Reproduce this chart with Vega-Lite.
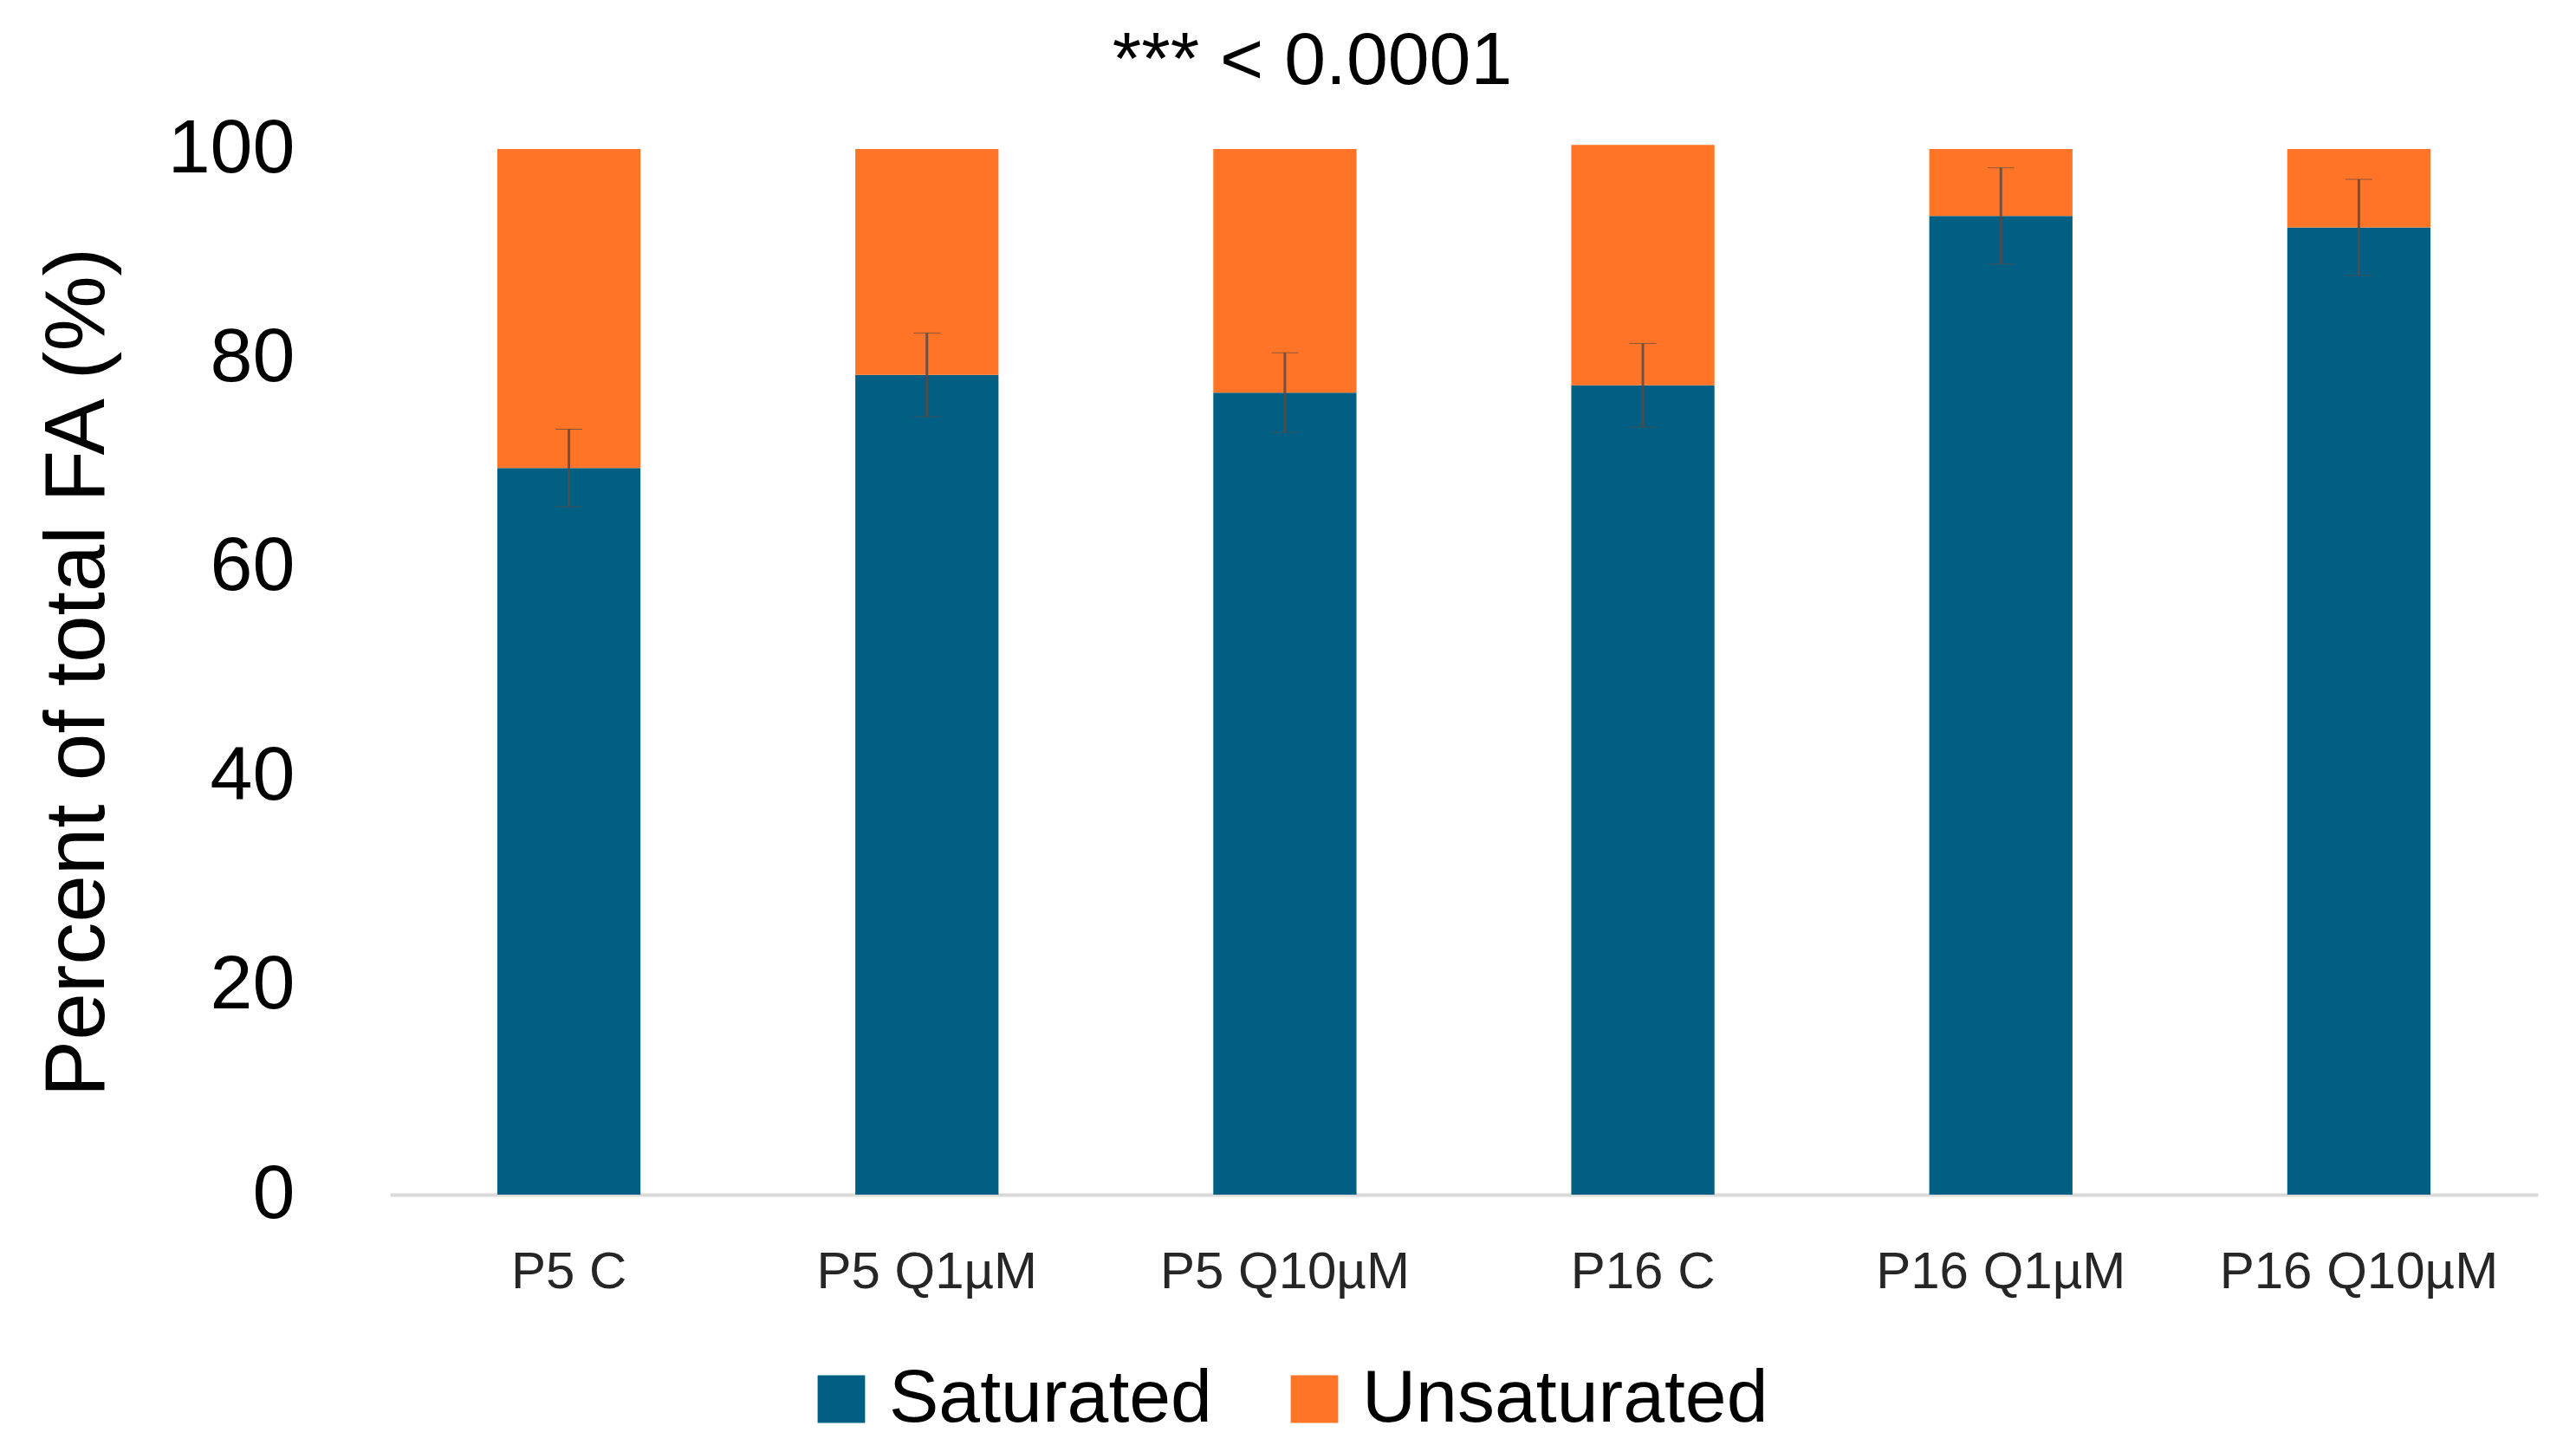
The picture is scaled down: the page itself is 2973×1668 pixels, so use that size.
{
  "$schema": "https://vega.github.io/schema/vega-lite/v6.json",
  "autosize": {"type": "none"},
  "padding": {"left": 450, "top": 172, "right": 44, "bottom": 289},
  "width": 2479,
  "height": 1207,
  "background": "white",
  "config": {"view": {"stroke": null}},
  "title": {
    "text": "***  < 0.0001",
    "font": "Liberation Sans",
    "fontSize": 86,
    "fontWeight": "normal",
    "color": "#000000",
    "anchor": "middle",
    "frame": "group",
    "dx": -175,
    "baseline": "alphabetic",
    "offset": -55
  },
  "datasets": {
    "bars": [
      {"group": "P5 C", "type": "Saturated", "value": 69.5},
      {"group": "P5 C", "type": "Unsaturated", "value": 30.5},
      {"group": "P5 Q1µM", "type": "Saturated", "value": 78.4},
      {"group": "P5 Q1µM", "type": "Unsaturated", "value": 21.6},
      {"group": "P5 Q10µM", "type": "Saturated", "value": 76.7},
      {"group": "P5 Q10µM", "type": "Unsaturated", "value": 23.3},
      {"group": "P16 C", "type": "Saturated", "value": 77.4},
      {"group": "P16 C", "type": "Unsaturated", "value": 23.0},
      {"group": "P16 Q1µM", "type": "Saturated", "value": 93.6},
      {"group": "P16 Q1µM", "type": "Unsaturated", "value": 6.4},
      {"group": "P16 Q10µM", "type": "Saturated", "value": 92.5},
      {"group": "P16 Q10µM", "type": "Unsaturated", "value": 7.5}
    ],
    "errs": [
      {"group": "P5 C", "value": 69.5, "err": 3.7},
      {"group": "P5 Q1µM", "value": 78.4, "err": 4.0},
      {"group": "P5 Q10µM", "value": 76.7, "err": 3.8},
      {"group": "P16 C", "value": 77.4, "err": 4.0},
      {"group": "P16 Q1µM", "value": 93.6, "err": 4.6},
      {"group": "P16 Q10µM", "value": 92.5, "err": 4.6}
    ]
  },
  "encoding": {
    "x": {
      "field": "group",
      "type": "nominal",
      "sort": ["P5 C", "P5 Q1µM", "P5 Q10µM", "P16 C", "P16 Q1µM", "P16 Q10µM"],
      "scale": {"paddingInner": 0.6, "paddingOuter": 0.3},
      "axis": {
        "title": null,
        "labelAngle": 0,
        "labelFont": "Liberation Sans",
        "labelFontSize": 60,
        "labelColor": "#262626",
        "labelBaseline": "top",
        "labelPadding": 60,
        "labelLimit": 1000,
        "ticks": false,
        "tickSize": 0,
        "domainColor": "#D9D9D9",
        "domainWidth": 4
      }
    }
  },
  "layer": [
    {
      "data": {"name": "bars"},
      "mark": {"type": "bar"},
      "encoding": {
        "y": {
          "field": "value",
          "type": "quantitative",
          "stack": "zero",
          "title": "Percent of total FA (%)",
          "scale": {"domain": [0, 100], "nice": false},
          "axis": {
            "title": "Percent of total FA (%)",
            "titleFont": "Liberation Sans",
            "titleFontSize": 98,
            "titleFontWeight": "normal",
            "titleColor": "#000000",
            "titlePadding": 110,
            "values": [0, 20, 40, 60, 80, 100],
            "labelFont": "Liberation Sans",
            "labelFontSize": 88,
            "labelColor": "#000000",
            "labelPadding": 110,
            "ticks": false,
            "tickSize": 0,
            "domain": false,
            "grid": false
          }
        },
        "color": {
          "field": "type",
          "type": "nominal",
          "scale": {"domain": ["Saturated", "Unsaturated"], "range": ["#005F83", "#FF7427"]},
          "legend": {
            "title": null,
            "orient": "none",
            "direction": "horizontal",
            "legendX": 478,
            "legendY": 1400,
            "symbolType": "square",
            "symbolSize": 3000,
            "symbolStrokeWidth": 0,
            "labelFont": "Liberation Sans",
            "labelFontSize": 86,
            "labelColor": "#000000",
            "labelOffset": 12,
            "columnPadding": 75,
            "labelLimit": 1000
          }
        },
        "order": {"field": "type", "sort": "ascending"}
      }
    },
    {
      "data": {"name": "errs"},
      "mark": {"type": "errorbar", "ticks": {"size": 31, "color": "#5a4a44", "strokeWidth": 4}, "rule": {"color": "#5a4a44", "strokeWidth": 3, "opacity": 0.85}},
      "encoding": {
        "y": {"field": "value", "type": "quantitative", "title": "Percent of total FA (%)"},
        "yError": {"field": "err"}
      }
    }
  ]
}
